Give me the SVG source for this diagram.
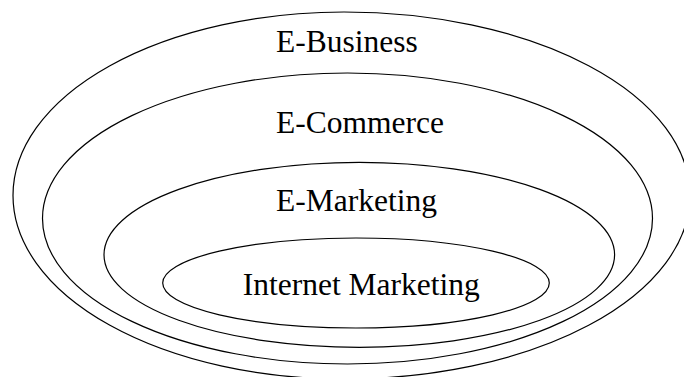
<svg xmlns="http://www.w3.org/2000/svg" width="684" height="377" viewBox="0 0 684 377">
  <style>
    .ring { fill: none; stroke: #000; stroke-width: 1.2; }
    .label { font-family: "Liberation Serif", "Times New Roman", serif; font-size: 31.5px; fill: #000; }
  </style>
  <rect width="684" height="377" fill="#fff"/>
  <g id="e-business">
    <!-- outer ring: left and right halves use slightly different radii -->
    <path class="ring" d="M 344 12 A 331 183.5 0 0 0 344 379 A 346 183.5 0 0 0 344 12 Z"/>
    <text class="label" x="276" y="51.7">E-Business</text>
  </g>
  <g id="e-commerce">
    <ellipse class="ring" cx="347.5" cy="218.5" rx="305" ry="145.5"/>
    <text class="label" x="276" y="132.7">E-Commerce</text>
  </g>
  <g id="e-marketing">
    <ellipse class="ring" cx="359.3" cy="254.8" rx="255.3" ry="92.5"/>
    <text class="label" x="276" y="210.7">E-Marketing</text>
  </g>
  <g id="internet-marketing">
    <ellipse class="ring" cx="356" cy="283" rx="193.3" ry="45"/>
    <text class="label" x="242.7" y="294.7">Internet Marketing</text>
  </g>
  <g id="connectors"></g>
</svg>
